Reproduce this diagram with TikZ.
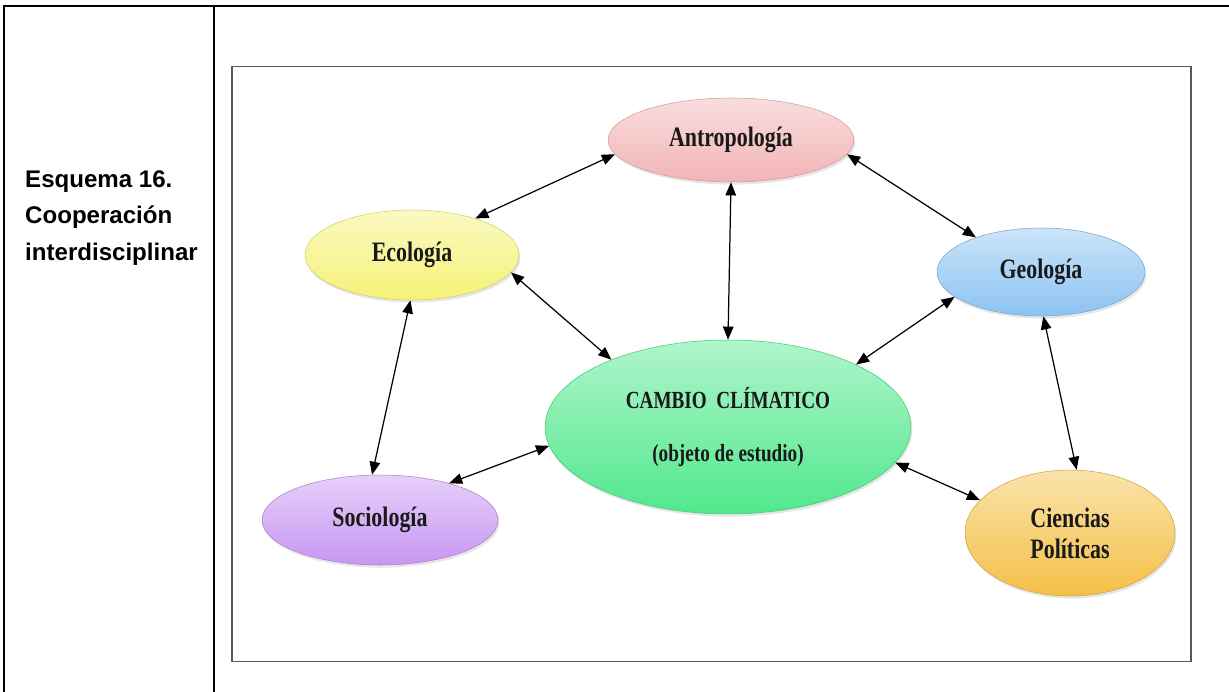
\documentclass[tikz,border=0pt]{standalone}
\usepackage{fontspec}
\setmainfont{Liberation Serif}
\newfontfamily\discfont[FakeStretch=0.78]{Liberation Serif}
\newfontfamily\headfont{Liberation Sans}
\usetikzlibrary{shapes.geometric,arrows.meta,shadows}
\definecolor{antroC}{RGB}{242,180,182}
\definecolor{ecoC}{RGB}{245,242,120}
\definecolor{geoC}{RGB}{140,195,242}
\definecolor{cambioC}{RGB}{80,232,140}
\definecolor{socioC}{RGB}{200,150,242}
\definecolor{cienC}{RGB}{244,192,70}
\tikzset{
  disc/.style = {ellipse, inner sep = 0pt, align = center, text = black!90,
    font = \discfont\bfseries\fontsize{16}{17.6}\selectfont,
    draw = #1!85!black, line width = 0.3pt,
    top color = #1!45!white, bottom color = #1,
    drop shadow = {opacity = 0.2, shadow xshift = 0.8pt, shadow yshift = -1.5pt}},
  link/.style = {{Triangle[length = 7.5pt, width = 6pt]}-{Triangle[length = 7.5pt, width = 6pt]}, line width = 0.7pt},
}
\begin{document}
\begin{tikzpicture}[x = 0.02cm, y = -0.02cm]
    \useasboundingbox (0, 0) rectangle (1229, 692);
    \draw [line width = 1.4pt] (4, 692) -- (4, 6) -- (1229, 6);
    \draw [line width = 1.4pt] (214, 6) -- (214, 692);
    \draw [black!65, line width = 0.85pt] (232, 66.5) rectangle (1191, 661.5);
    \node [anchor = west, align = left, font = \headfont\bfseries\fontsize{13.7}{21}\selectfont] (title) at (19, 218) {Esquema 16.\\ Cooperación\\ interdisciplinar};

    \node [disc = antroC, minimum width = 4.92cm, minimum height = 1.68cm] (antro) at (731, 140) {Antropología};
    \node [disc = ecoC, minimum width = 4.28cm, minimum height = 1.8cm] (eco) at (412, 255) {Ecología};
    \node [disc = geoC, minimum width = 4.16cm, minimum height = 1.76cm] (geo) at (1041, 272) {Geología};
    \node [disc = cambioC, minimum width = 7.32cm, minimum height = 3.48cm, font = \discfont\bfseries\fontsize{14}{30.6}\selectfont] (cambio) at (728, 427) {CAMBIO\ \ CLÍMATICO\\ (objeto de estudio)};
    \node [disc = socioC, minimum width = 4.72cm, minimum height = 1.8cm] (socio) at (380, 520) {Sociología};
    \node [disc = cienC, minimum width = 4.2cm, minimum height = 2.52cm] (cien) at (1070, 533) {Ciencias\\ Políticas};

    \draw [link] (eco.30) -- (antro.187);
    \draw [link] (antro.-7) -- (geo.152);
    \draw [link] (antro.south) -- (cambio.north);
    \draw [link] (eco.-10) -- (cambio.150);
    \draw [link] (cambio.26) -- (geo.196);
    \draw [link] (eco.-92) -- (socio.100);
    \draw [link] (socio.28) -- (cambio.186);
    \draw [link] (geo.-87) -- (cien.84);
    \draw [link] (cambio.-12) -- (cien.160);
  \end{tikzpicture}
\end{document}
